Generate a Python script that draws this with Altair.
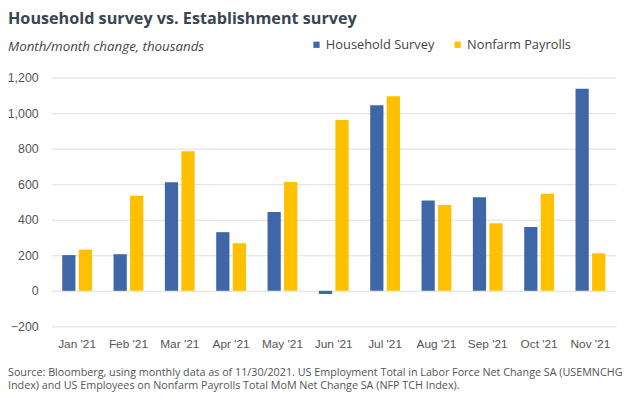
import altair as alt
import pandas as pd

months = ["Jan '21", "Feb '21", "Mar '21", "Apr '21", "May '21", "Jun '21",
          "Jul '21", "Aug '21", "Sep '21", "Oct '21", "Nov '21"]
household = [201, 206, 611, 330, 444, -18, 1045, 509, 526, 359, 1137]
nonfarm = [232, 535, 786, 268, 612, 962, 1095, 483, 380, 546, 211]
series = ["Household Survey", "Nonfarm Payrolls"]
colors = ["#3F66A6", "#FFC000"]
y_ticks = [-200, 0, 200, 400, 600, 800, 1000, 1200]

title_text = "Household survey vs. Establishment survey"
subtitle_text = "Month/month change, thousands"
source_text = ("Source: Bloomberg, using monthly data as of 11/30/2021. US Employment Total in Labor Force Net Change SA (USEMNCHG\n"
               "Index) and US Employees on Nonfarm Payrolls Total MoM Net Change SA (NFP TCH Index).")

rows = []
for m, h, n in zip(months, household, nonfarm):
    rows.append({"month": m, "series": series[0], "value": h})
    rows.append({"month": m, "series": series[1], "value": n})
df = pd.DataFrame(rows)

font_main = "Open Sans"
font_axis = "Liberation Sans"

bars = alt.Chart(df).mark_bar().encode(
    x=alt.X("month:N", sort=months,
            scale=alt.Scale(paddingInner=0.42, paddingOuter=0.21),
            axis=alt.Axis(title=None, labelAngle=0, ticks=False, domain=False,
                          labelFont=font_axis, labelFontSize=12, labelColor="#555555",
                          labelPadding=12)),
    xOffset=alt.XOffset("series:N", sort=series,
                        scale=alt.Scale(paddingInner=0.2)),
    y=alt.Y("value:Q",
            scale=alt.Scale(domain=[-200, 1200], nice=False),
            axis=alt.Axis(title=None, values=y_ticks, format=",.0f", ticks=False, domain=False,
                          labelFont=font_axis, labelFontSize=12.5, labelColor="#555555",
                          labelPadding=13.5, gridColor="#dddddd", gridWidth=1)),
    color=alt.Color("series:N", sort=series,
                    scale=alt.Scale(domain=series, range=colors),
                    legend=alt.Legend(title=None, orient="none", direction="horizontal",
                                      legendX=262, legendY=-40, symbolType="square",
                                      symbolSize=40, symbolStrokeWidth=0,
                                      labelFont=font_main, labelFontSize=13,
                                      labelColor="#444444", columnPadding=17,
                                      labelOffset=3)),
)

source = alt.Chart(pd.DataFrame({"t": [source_text]})).mark_text(
    align="left", baseline="top", font=font_main, fontSize=10.9, color="#555555",
    lineBreak="\n", lineHeight=13
).encode(x=alt.value(-44), y=alt.value(293.5), text="t:N")

chart = alt.layer(bars, source).properties(
    width=572, height=252,
    title=alt.TitleParams(text=title_text, subtitle=subtitle_text, anchor="start",
                          frame="group", dx=-44, offset=-16, font=font_main, fontSize=16.4,
                          fontWeight="bold", color="#3a4552", subtitleFont=font_main,
                          subtitleFontSize=13.5, subtitleFontStyle="italic",
                          subtitleColor="#444444", subtitlePadding=13),
    autosize=alt.AutoSizeParams(type="none"),
    padding={"left": 44, "top": 68, "right": 6, "bottom": 64},
).configure_view(stroke=None)

chart.save("out.html", embed_options={"renderer": "svg", "actions": False})
